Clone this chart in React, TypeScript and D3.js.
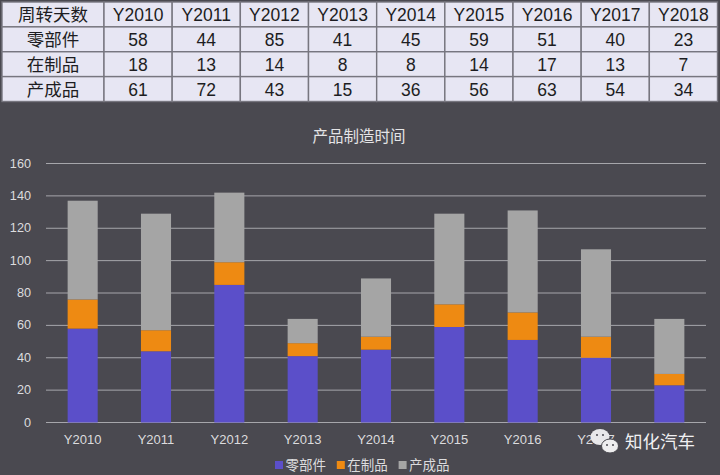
import * as d3 from "d3";

const years = ["Y2010", "Y2011", "Y2012", "Y2013", "Y2014", "Y2015", "Y2016", "Y2017", "Y2018"];
const seriesNames = ["零部件", "在制品", "产成品"];
const parts = [58, 44, 85, 41, 45, 59, 51, 40, 23];
const wip = [18, 13, 14, 8, 8, 14, 17, 13, 7];
const finished = [61, 72, 43, 15, 36, 56, 63, 54, 34];
const yTicks = [0, 20, 40, 60, 80, 100, 120, 140, 160];
const colors = ["#5b4fc9", "#ee8a12", "#a5a5a5"];

const tableHead = "周转天数";
const seriesValues = [parts, wip, finished];
const latin = "'Liberation Sans', Arial, sans-serif";
const cjk = "'Liberation Sans', 'Noto Sans CJK SC', sans-serif";
const bg = "#4a4950";

export default function App() {
  const x = d3.scaleBand().domain(years).range([46, 706]).paddingInner(0.59).paddingOuter(0.295);
  const y = d3.scaleLinear().domain([0, 160]).range([422.5, 163.5]);

  const rows = years.map((year, i) => ({ year, a: parts[i], b: wip[i], c: finished[i] }));
  const stacked = d3.stack<any>().keys(["a", "b", "c"])(rows);

  // table column edges, the first column is wider
  const colX = d3.scaleLinear().domain([0, 9]).range([104, 717.5]);
  const rowY = d3.scaleLinear().domain([0, 4]).range([2, 101.5]);
  const colEdge = (i: number) => (i === 0 ? 2 : colX(i - 1));

  const tableRows = [[tableHead, ...years], ...seriesNames.map((n, r) => [n, ...seriesValues[r].map(String)])];

  return (
    <svg
      width={720}
      height={475}
      style={{ position: "absolute", left: 0, top: 0, display: "block" }}
    >
      <rect width={720} height={475} fill={bg} />

      {/* table */}
      {tableRows.map((row, r) =>
        row.map((cell, c) => (
          <g key={`${r}-${c}`}>
            <rect
              x={colEdge(c)}
              y={rowY(r)}
              width={colEdge(c + 1) - colEdge(c)}
              height={rowY(r + 1) - rowY(r)}
              fill="#e7e6f3"
              stroke="#77767f"
              strokeWidth={1.4}
            />
            <text
              x={(colEdge(c) + colEdge(c + 1)) / 2}
              y={(rowY(r) + rowY(r + 1)) / 2 + 0.5}
              textAnchor="middle"
              dominantBaseline="central"
              fontFamily={cjk}
              fontSize={17.5}
              fill="#1d1d22"
            >
              {cell}
            </text>
          </g>
        ))
      )}

      <text x={359} y={136} textAnchor="middle" dominantBaseline="central" fontFamily={cjk} fontSize={15.5} fill="#e4e4e6">
        产品制造时间
      </text>

      {/* grid and y axis */}
      {yTicks.map((t) => (
        <g key={t}>
          <line x1={46} x2={706} y1={y(t)} y2={y(t)} stroke="#a6a6ab" strokeWidth={1} />
          <text x={31} y={y(t)} textAnchor="end" dominantBaseline="central" fontFamily={latin} fontSize={12.7} fill="#dcdcde">
            {t}
          </text>
        </g>
      ))}

      {/* stacked bars */}
      {stacked.map((layer, s) => (
        <g key={s} fill={colors[s]}>
          {layer.map((d, i) => (
            <rect key={i} x={x(years[i])} y={y(d[1])} width={x.bandwidth()} height={y(d[0]) - y(d[1])} />
          ))}
        </g>
      ))}

      {/* x labels */}
      {years.map((year) => (
        <text
          key={year}
          x={x(year)! + x.bandwidth() / 2}
          y={439}
          textAnchor="middle"
          dominantBaseline="central"
          fontFamily={latin}
          fontSize={13}
          fill="#dcdcde"
        >
          {year}
        </text>
      ))}

      {/* legend */}
      {seriesNames.map((name, i) => {
        const lx = 275 + i * 61.8;
        return (
          <g key={name}>
            <rect x={lx} y={461} width={8} height={8} fill={colors[i]} />
            <text x={lx + 10.5} y={465} dominantBaseline="central" fontFamily={cjk} fontSize={13.5} fill="#dcdcde">
              {name}
            </text>
          </g>
        );
      })}

      {/* watermark sits on top of the last axis labels, as in the photo */}
      <rect x={621} y={431} width={85} height={22} fill={bg} />
      <ellipse cx={600} cy={437} rx={9.5} ry={8} fill="#e8e8ea" />
      <ellipse cx={610} cy={446} rx={8.5} ry={7} fill="#eeeeef" stroke={bg} strokeWidth={1} />
      <circle cx={597} cy={435} r={1} fill={bg} />
      <circle cx={603} cy={435} r={1} fill={bg} />
      <circle cx={607} cy={445} r={1} fill={bg} />
      <circle cx={613} cy={445} r={1} fill={bg} />
      <text x={625} y={442} dominantBaseline="central" fontFamily={cjk} fontSize={17.5} fill="#f0f0f2">
        知化汽车
      </text>
    </svg>
  );
}
